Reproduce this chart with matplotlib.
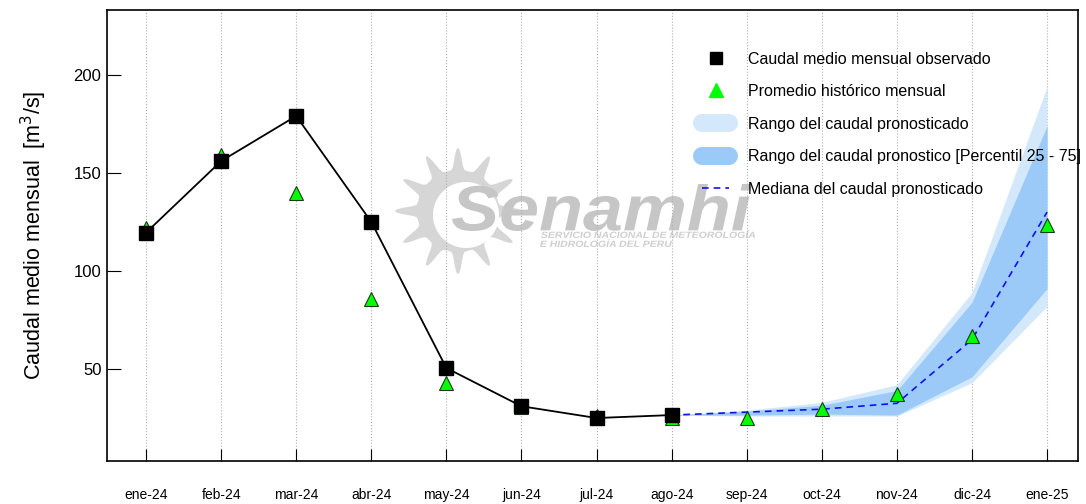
import numpy as np
import matplotlib
matplotlib.use("Agg")
import matplotlib.pyplot as plt
from matplotlib.lines import Line2D
from matplotlib.textpath import TextPath
from matplotlib.font_manager import FontProperties
from matplotlib.patches import PathPatch, Polygon
from matplotlib.transforms import Affine2D, IdentityTransform

plt.rcParams['font.family'] = ['Liberation Sans', 'DejaVu Sans']

# Month labels
meses = ['ene-24', 'feb-24', 'mar-24', 'abr-24', 'may-24', 'jun-24', 'jul-24',
         'ago-24', 'sep-24', 'oct-24', 'nov-24', 'dic-24', 'ene-25']

# Observed monthly discharge (ene-24 .. ago-24)
observado = [119.5, 156, 179, 125, 50.5, 31, 25, 26.5]

# Historical monthly mean (all 13 months)
historico = [122, 159, 139.5, 85.5, 43, 30.5, 26, 25, 25, 29.5, 37, 67, 123.5]

# Forecast (ago-24 .. ene-25)
med_pron = [26.5, 28, 29.5, 32.5, 65, 130]
p25 = [26.5, 26.5, 27, 26.5, 46, 91]
p75 = [26.5, 28.5, 31.5, 39, 84, 174]
rango_min = [26.5, 26, 26, 26, 43, 82]
rango_max = [26.5, 29, 33, 42, 89, 194]

x_all = np.arange(len(meses))
x_obs = x_all[:len(observado)]
x_pron = x_all[len(observado) - 1:]

W, H = 1086, 504
fig = plt.figure(figsize=(W / 100, H / 100), dpi=100)
ax = fig.add_axes([0.0985, 0.085, 0.894, 0.895])


def logo_text(s, x0, x1, ytop, ybot, color):
    # text stretched into a pixel box (pixels from top-left)
    fp = FontProperties(family='Liberation Sans', weight='bold', style='italic')
    tp = TextPath((0, 0), s, size=100, prop=fp)
    bb = tp.get_extents()
    tr = (Affine2D().translate(-bb.x0, -bb.y0)
          .scale((x1 - x0) / bb.width, (ybot - ytop) / bb.height)
          .translate(x0, H - ybot))
    p = PathPatch(tr.transform_path(tp), transform=IdentityTransform(),
                  color=color, lw=0, zorder=0.5)
    ax.add_artist(p)


# watermark: sun
th = np.linspace(0, 2 * np.pi, 600)
ray = (0.5 + 0.5 * np.cos(12 * th + 0.6 * np.sin(12 * th))) ** 1.5
r_out = 41 + 22 * ray
cx, cy = 458, 211
outer = np.column_stack([cx + r_out * np.cos(th), H - (cy + r_out * np.sin(th))])
ax.add_artist(Polygon(outer, closed=True, transform=IdentityTransform(),
                      color='#d6d6d6', lw=0, zorder=0.4))
inner = np.column_stack([cx + 8 + 33 * np.cos(th), H - (cy + 4 + 33 * np.sin(th))])
ax.add_artist(Polygon(inner, closed=True, transform=IdentityTransform(),
                      color='white', lw=0, zorder=0.45))
logo_text('Senamhi', 452, 752, 184, 231, '#c6c6c6')
logo_text('SERVICIO NACIONAL DE METEOROLOGÍA', 541, 755, 230, 238, '#cfcfcf')
logo_text('E HIDROLOGÍA DEL PERU', 540, 672, 239, 247, '#cfcfcf')

for xi in x_all:
    ax.axvline(xi, color='#b0b0b0', ls=':', lw=0.8, zorder=0.6)

ax.fill_between(x_pron, rango_min, rango_max, color='#d4e8fc', lw=0, zorder=1)
ax.fill_between(x_pron, p25, p75, color='#9bcaf8', lw=0, zorder=1.2)
ax.plot(x_pron, med_pron, color='#1010ee', ls=(0, (4, 3)), lw=1.2, zorder=2)
ax.plot(x_all, historico, ls='none', marker='^', ms=10, mfc='#00ff00',
        mec='#1a3a1a', mew=0.8, zorder=3)
ax.plot(x_obs, observado, color='black', lw=1.3, marker='s', ms=9.5,
        mfc='black', mec='black', zorder=4)

ax.set_xlim(-0.52, 12.41)
ax.set_ylim(3, 233)
ax.set_yticks([50, 100, 150, 200])
ax.set_xticks(x_all)
ax.set_xticklabels(meses)
ax.tick_params(axis='x', direction='in', length=9, pad=19, labelsize=10)
ax.tick_params(axis='y', direction='in', length=10, pad=4, labelsize=12)
ax.set_ylabel('Caudal medio mensual  [m$^3$/s]', fontsize=15.5, labelpad=18)
for s in ax.spines.values():
    s.set_linewidth(1.2)

handles = [
    Line2D([0], [0], ls='none', marker='s', ms=9, color='black'),
    Line2D([0], [0], ls='none', marker='^', ms=10, color='#00ff00'),
    Line2D([0], [0], color='#d4e8fc', lw=13, solid_capstyle='round'),
    Line2D([0], [0], color='#9bcaf8', lw=13, solid_capstyle='round'),
    Line2D([0], [0], color='#1010ee', ls=(0, (4, 3)), lw=1.2),
]
labels = ['Caudal medio mensual observado', 'Promedio histórico mensual',
          'Rango del caudal pronosticado',
          'Rango del caudal pronostico [Percentil 25 - 75]',
          'Mediana del caudal pronosticado']
ax.legend(handles, labels, loc='upper left', bbox_to_anchor=(0.598, 0.94),
          frameon=False, fontsize=11.5, handlelength=1.7, handletextpad=1.16,
          labelspacing=1.1)

fig.savefig('out.png', dpi=100)
